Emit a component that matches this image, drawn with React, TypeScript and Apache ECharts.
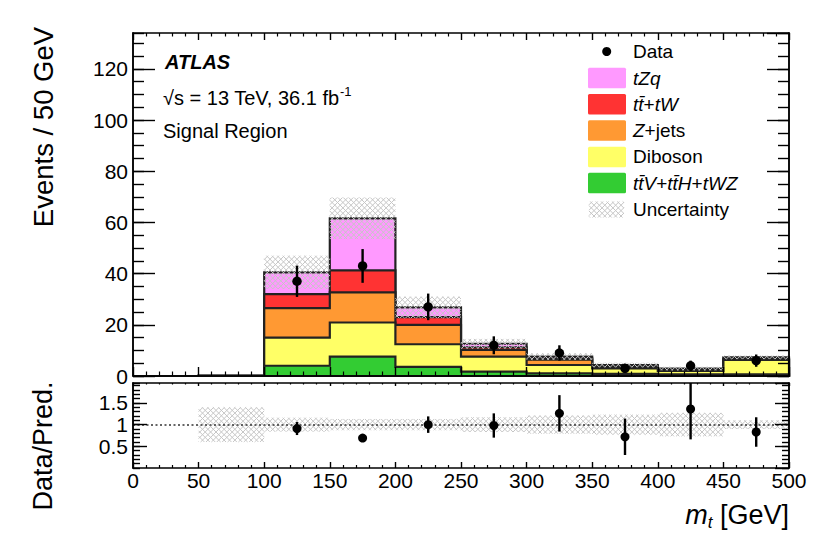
import React, { useEffect, useRef } from 'react';
import * as echarts from 'echarts';

// ---- data ----
const binLow = [0, 50, 100, 150, 200, 250, 300, 350, 400, 450];
const binWidth = 50;
const ttVttHtWZ = [0, 0, 4.0, 7.6, 3.6, 1.7, 1.0, 0.8, 0.6, 0.6];
const diboson = [0, 0.1, 11.0, 13.3, 8.8, 5.9, 3.3, 2.2, 1.4, 5.7];
const zjets = [0, 0, 11.5, 11.8, 7.6, 2.6, 2.1, 0.5, 0.4, 0.2];
const ttbarTW = [0, 0, 5.5, 8.6, 3.0, 1.0, 0.5, 0.3, 0.2, 0.3];
const tZq = [0, 0, 8.5, 20.3, 3.8, 1.4, 0.7, 0.5, 0.3, 0.5];
const predUnc = [0, 0, 6.5, 8.1, 4.2, 1.9, 1.3, 0.9, 0.7, 0.7];
const dataCounts = [null, null, 37, 43, 27, 12, 9, 3, 4, 6];
const dataErr = [0, 0, 6.1, 6.6, 5.2, 3.5, 3.0, 1.7, 2.0, 2.4];
const ratioVals = [null, null, 0.91, 0.69, 1.0, 0.98, 1.26, 0.72, 1.36, 0.83];
const ratioErr = [0, 0, 0.15, 0.09, 0.19, 0.28, 0.42, 0.42, 0.7, 0.34];
const ratioBand = [0, 0.4, 0.16, 0.13, 0.13, 0.17, 0.21, 0.23, 0.27, 0.1];

const xMin = 0;
const xMax = 500;
const mainMax = 134;
const ratioMax = 1.96;

const FONT = '"Liberation Sans", Arial, Helvetica, sans-serif';

const layers = [
  { name: 'ttV', values: ttVttHtWZ, color: '#33cc33' },
  { name: 'Diboson', values: diboson, color: '#ffff66' },
  { name: 'Z+jets', values: zjets, color: '#ff9933' },
  { name: 'ttbar+tW', values: ttbarTW, color: '#ff3333' },
  { name: 'tZq', values: tZq, color: '#ff99ff' },
];

const HATCH_STYLE = { stroke: '#c6c6c6', lineWidth: 1.0 };
const HATCH_STEP = 5.4;

function hatchLines(xA: number, yA: number, xB: number, yB: number) {
  const x0 = Math.min(xA, xB), x1 = Math.max(xA, xB);
  const y0 = Math.min(yA, yB), y1 = Math.max(yA, yB);
  const s = HATCH_STEP;
  const out: any[] = [];
  for (let c = Math.ceil((y0 - x1) / s) * s; c <= y1 - x0; c += s) {
    const xs = Math.max(x0, y0 - c), xe = Math.min(x1, y1 - c);
    if (xe > xs) out.push({ type: 'line', shape: { x1: xs, y1: xs + c, x2: xe, y2: xe + c }, style: HATCH_STYLE });
  }
  for (let c = Math.ceil((x0 + y0) / s) * s; c <= x1 + y1; c += s) {
    const xs = Math.max(x0, c - y1), xe = Math.min(x1, c - y0);
    if (xe > xs) out.push({ type: 'line', shape: { x1: xs, y1: c - xs, x2: xe, y2: c - xe }, style: HATCH_STYLE });
  }
  return out;
}

export default function App() {
  const ref = useRef<HTMLDivElement>(null);

  useEffect(() => {
    const chart = echarts.init(ref.current!, null, { renderer: 'svg' });

    const canvas = document.createElement('canvas');
    const ctx = canvas.getContext('2d')!;
    const tw = (text: string, font: string) => {
      ctx.font = font;
      return ctx.measureText(text).width;
    };

    // cumulative stacks
    const cum: number[][] = [];
    layers.forEach((l, k) => {
      cum.push(l.values.map((v, i) => v + (k > 0 ? cum[k - 1][i] : 0)));
    });
    const total = cum[cum.length - 1];

    const axisLineStyle = { color: '#000', width: 1.5 };

    const xAx = (gridIndex: number, position: string, showLabel: boolean, major: number, minor: number) => ({
      type: 'value', gridIndex, position, min: xMin, max: xMax, interval: 50, z: 20,
      axisLine: { show: true, onZero: false, lineStyle: axisLineStyle },
      axisTick: { show: true, inside: true, length: major, lineStyle: { color: '#000', width: 1.4 } },
      minorTick: { show: true, splitNumber: 5, length: minor, lineStyle: { color: '#000', width: 1.2 } },
      splitLine: { show: false }, minorSplitLine: { show: false },
      axisLabel: showLabel
        ? { show: true, fontSize: 21, color: '#000', fontFamily: FONT, margin: 2, showMinLabel: true, showMaxLabel: true, hideOverlap: false }
        : { show: false },
    });

    const yAx = (gridIndex: number, position: string, min: number, max: number, interval: number, len: number, showLabel: boolean, showMin: boolean) => ({
      type: 'value', gridIndex, position, min, max, interval, z: 20,
      axisLine: { show: true, onZero: false, lineStyle: axisLineStyle },
      axisTick: { show: true, inside: true, length: len, lineStyle: { color: '#000', width: 1.4 } },
      splitLine: { show: false },
      axisLabel: showLabel
        ? { show: true, fontSize: 21, color: '#000', fontFamily: FONT, margin: 5, showMinLabel: showMin, showMaxLabel: false, hideOverlap: false }
        : { show: false },
    });

    const layerSeries = layers
      .map((l, k) => ({
        type: 'custom', name: l.name, xAxisIndex: 0, yAxisIndex: 0, z: 2 + (layers.length - 1 - k), silent: true,
        data: [[0, 0]],
        encode: { x: 0, y: 1 },
        renderItem: (_p: any, api: any) => {
          const pts: number[][] = [];
          pts.push(api.coord([binLow[0], 0]));
          binLow.forEach((lo, i) => {
            pts.push(api.coord([lo, cum[k][i]]));
            pts.push(api.coord([lo + binWidth, cum[k][i]]));
          });
          pts.push(api.coord([binLow[binLow.length - 1] + binWidth, 0]));
          return {
            type: 'polygon',
            shape: { points: pts },
            style: { fill: l.color, stroke: '#222', lineWidth: 2.2, lineJoin: 'miter' },
          };
        },
      }))
      .reverse();

    const bandSeries = {
      type: 'custom', xAxisIndex: 0, yAxisIndex: 0, z: 8, silent: true,
      data: binLow.map((lo, i) => [lo, total[i], predUnc[i]]),
      encode: { x: 0, y: 1 },
      renderItem: (_p: any, api: any) => {
        const lo = api.value(0), tot = api.value(1), u = api.value(2);
        if (!(u > 0)) return { type: 'group', children: [] };
        const p1 = api.coord([lo, tot + u]);
        const p2 = api.coord([lo + binWidth, Math.max(0, tot - u)]);
        return { type: 'group', children: hatchLines(p1[0], p1[1], p2[0], p2[1]) };
      },
    };

    const pointRender = (clipMax: number | null, r: number, lw: number) => (_p: any, api: any) => {
      const x = api.value(0), v = api.value(1), e = api.value(2);
      const c = api.coord([x, v]);
      let top = api.coord([x, v + e])[1];
      const bot = api.coord([x, Math.max(0, v - e)])[1];
      if (clipMax != null) top = Math.max(top, api.coord([x, clipMax])[1]);
      return {
        type: 'group',
        children: [
          { type: 'line', shape: { x1: c[0], y1: top, x2: c[0], y2: bot }, style: { stroke: '#000', lineWidth: lw } },
          { type: 'circle', shape: { cx: c[0], cy: c[1], r }, style: { fill: '#000' } },
        ],
      };
    };

    const dataSeries = {
      type: 'custom', xAxisIndex: 0, yAxisIndex: 0, z: 9, silent: true,
      data: binLow
        .map((lo, i) => (dataCounts[i] == null ? null : [lo + binWidth / 2, dataCounts[i], dataErr[i]]))
        .filter((d) => d != null),
      encode: { x: 0, y: 1 },
      renderItem: pointRender(null, 4.7, 2.4),
    };

    const ratioBandSeries = {
      type: 'custom', xAxisIndex: 2, yAxisIndex: 4, z: 3, silent: true,
      data: binLow.map((lo, i) => [lo, 1, ratioBand[i]]),
      encode: { x: 0, y: 1 },
      renderItem: (_p: any, api: any) => {
        const lo = api.value(0), c = api.value(1), u = api.value(2);
        if (!(u > 0)) return { type: 'group', children: [] };
        const p1 = api.coord([lo, c + u]);
        const p2 = api.coord([lo + binWidth, c - u]);
        return { type: 'group', children: hatchLines(p1[0], p1[1], p2[0], p2[1]) };
      },
      markLine: {
        silent: true, symbol: ['none', 'none'], label: { show: false }, z: 4,
        lineStyle: { color: '#333', width: 1.5, type: [2, 2.5] },
        data: [{ yAxis: 1 }],
      },
    };

    const ratioSeries = {
      type: 'custom', xAxisIndex: 2, yAxisIndex: 4, z: 9, silent: true,
      data: binLow
        .map((lo, i) => (ratioVals[i] == null ? null : [lo + binWidth / 2, ratioVals[i], ratioErr[i]]))
        .filter((d) => d != null),
      encode: { x: 0, y: 1 },
      renderItem: pointRender(ratioMax, 4.5, 2.4),
    };

    // ---- texts ----
    const txt = (x: number, y: number, text: string, fontSize: number, extra: any = {}, elExtra: any = {}) => ({
      type: 'text', x, y, z: 40, silent: true, ...elExtra,
      style: { text, fontSize, fontFamily: FONT, fill: '#000', align: 'left', verticalAlign: 'middle', ...extra },
    });

    const richItalic = { i: { fontStyle: 'italic', fontSize: 19, fontFamily: FONT, fill: '#000' } };

    const sqrtMain = '\u221As = 13 TeV, 36.1 fb';
    const sqrtW = tw(sqrtMain, `20px "Liberation Sans"`);

    const restTitle = ' [GeV]';
    const restW = tw(restTitle, `27px "Liberation Sans"`);
    const tW = tw('t', `italic 17px "Liberation Sans"`);
    const xTitleRight = 789;
    const tLeft = xTitleRight - restW - tW;

    const legendX = 588, legendW = 38, legendH = 20.5, legendTextX = 633;
    const legendRows = [
      { y: 78, color: '#ff99ff', text: '{i|tZq}' },
      { y: 104.3, color: '#ff3333', text: '{i|tt\u0304}+{i|tW}' },
      { y: 130.6, color: '#ff9933', text: '{i|Z}+jets' },
      { y: 156.9, color: '#ffff66', text: 'Diboson' },
      { y: 183, color: '#33cc33', text: '{i|tt\u0304V}+{i|tt\u0304H}+{i|tWZ}' },
    ];

    const graphics: any[] = [
      txt(165, 61.7, 'ATLAS', 20, { fontWeight: 'bold', fontStyle: 'italic' }),
      txt(163, 98, sqrtMain, 20),
      txt(163 + sqrtW + 0.5, 91.5, '-1', 13),
      txt(163, 131, 'Signal Region', 20),
      // axis titles
      txt(43, 127, 'Events / 50 GeV', 27.5, { align: 'center' }, { rotation: Math.PI / 2 }),
      txt(43, 446, 'Data/Pred.', 27, { align: 'center' }, { rotation: Math.PI / 2 }),
      txt(xTitleRight, 515, restTitle, 27, { align: 'right' }),
      txt(tLeft, 522, 't', 17, { fontStyle: 'italic' }),
      txt(tLeft, 515, 'm', 27, { fontStyle: 'italic', align: 'right' }),
      // legend
      { type: 'circle', z: 40, silent: true, shape: { cx: 606.7, cy: 51.5, r: 4.5 }, style: { fill: '#000' } },
      txt(legendTextX, 51.3, 'Data', 19),
    ];
    legendRows.forEach((r) => {
      graphics.push({
        type: 'rect', z: 40, silent: true,
        shape: { x: legendX, y: r.y - legendH / 2, width: legendW, height: legendH, r: 1.5 },
        style: { fill: r.color },
      });
      graphics.push(txt(legendTextX, r.y, r.text, 19, { rich: richItalic }));
    });
    graphics.push({
      type: 'group', z: 40, silent: true,
      children: hatchLines(589, 201.5, 624, 217.5),
    });
    graphics.push(txt(legendTextX, 209.3, 'Uncertainty', 19));

    const option: any = {
      animation: false,
      backgroundColor: '#fff',
      textStyle: { fontFamily: FONT },
      grid: [
        { left: 133, right: 41, top: 33, height: 343, containLabel: false, outerBoundsMode: 'none' },
        { left: 133, right: 41, top: 383, height: 85, containLabel: false, outerBoundsMode: 'none' },
      ],
      xAxis: [
        xAx(0, 'bottom', false, 9, 4.5),
        xAx(0, 'top', false, 7, 3.5),
        xAx(1, 'bottom', true, 6, 3),
        xAx(1, 'top', false, 3, 1.5),
      ],
      yAxis: [
        yAx(0, 'left', 0, mainMax, 20, 22, true, true),
        yAx(0, 'left', 0, mainMax, 5, 11, false, false),
        yAx(0, 'right', 0, mainMax, 20, 22, false, false),
        yAx(0, 'right', 0, mainMax, 5, 11, false, false),
        yAx(1, 'left', 0, ratioMax, 0.5, 14, true, false),
        yAx(1, 'left', 0, ratioMax, 0.1, 7, false, false),
        yAx(1, 'right', 0, ratioMax, 0.5, 14, false, false),
        yAx(1, 'right', 0, ratioMax, 0.1, 7, false, false),
      ],
      series: [...layerSeries, bandSeries, dataSeries, ratioBandSeries, ratioSeries],
      graphic: { elements: graphics },
    };

    chart.setOption(option);
    return () => chart.dispose();
  }, []);

  return (
    <div
      ref={ref}
      style={{ position: 'fixed', left: 0, top: 0, width: 830, height: 533, background: '#fff' }}
    />
  );
}
